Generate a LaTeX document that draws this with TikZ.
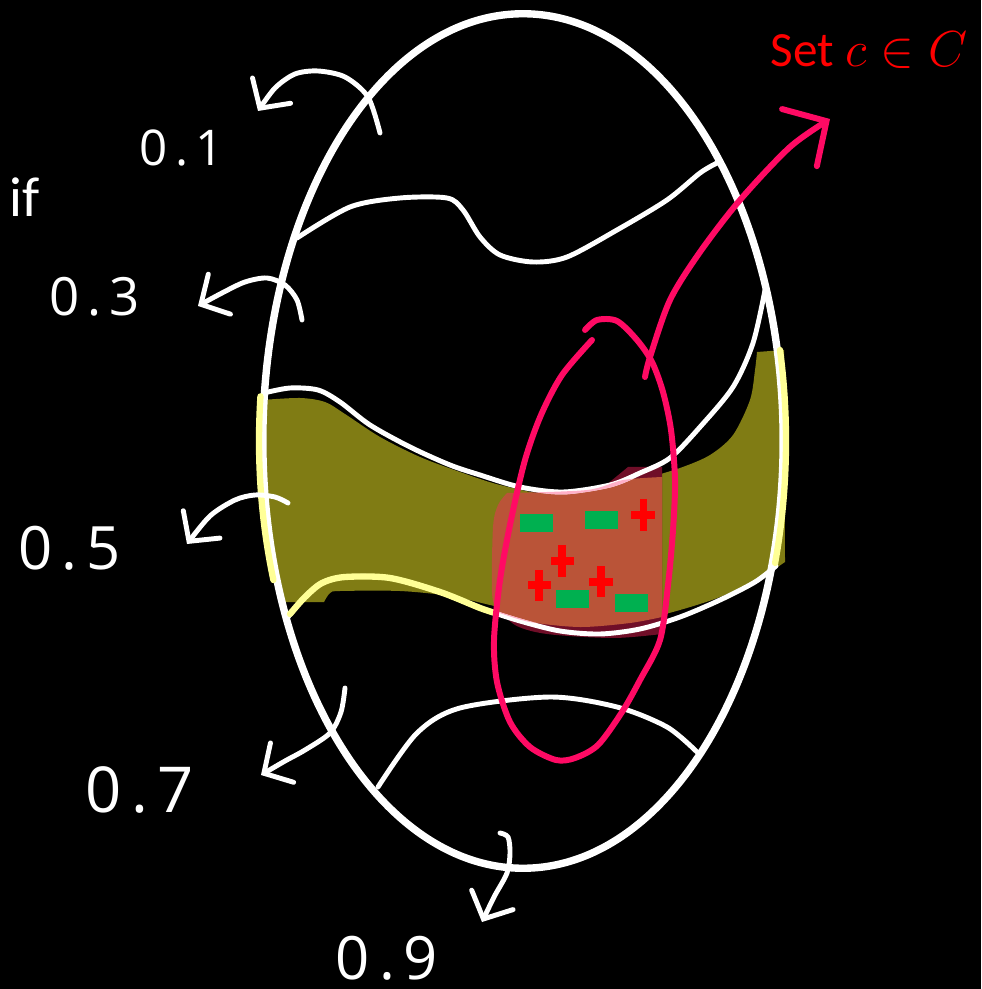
\documentclass[tikz,border=0pt]{standalone}
\usepackage{amsmath}
\usepackage{fontspec}
\usetikzlibrary{arrows.meta}
\newfontfamily\calibrifont{Carlito}
\newfontfamily\handfont{Open Sans}[LetterSpace=15]
\definecolor{bandolive}{RGB}{128,124,20}
\definecolor{hilite}{RGB}{255,255,150}
\definecolor{boxorange}{RGB}{186,84,56}
\definecolor{boxdark}{RGB}{112,14,40}
\definecolor{markgreen}{RGB}{0,176,80}
\definecolor{loopred}{RGB}{255,10,100}
\definecolor{paleline}{RGB}{255,176,200}
\tikzset{
	shell/.style={draw=white, line width=2.1pt},
	contour/.style={draw=white, line width=1.4pt, line cap=round},
	hiline/.style={draw=hilite, line width=1.8pt, line cap=round},
	paleover/.style={draw=paleline, line width=1.4pt},
	pointer/.style={draw=white, line width=1.4pt, line cap=round, line join=round,
		-{Straight Barb[length=6pt,width=13pt,line cap=round]}},
	loopline/.style={draw=loopred, line width=1.7pt, line cap=round, line join=round},
	valuelbl/.style={text=white, inner sep=0pt},
	negmark/.style={fill=markgreen},
	posmark/.style={draw=red, line width=2pt},
}
% shared paths
\def\bandpath{plot[smooth] coordinates {(262,400) (300,398) (325,402) (345,414) (380,437) (420,457) (460,472) (500,485) (560,497) (600,492) (640,480) (680,468) (710,455) (733,435) (750,400) (755,370) (757,352)} -- (784,350) -- (785,562) -- plot[smooth] coordinates {(785,562) (760,578) (720,597) (680,610) (640,620) (600,625) (560,622) (520,612) (490,605) (450,596) (400,591) (340,591) (330,593) (324,602)} -- (285,602) -- (272,540) -- (264,470) -- cycle}
\def\boxpath{plot[smooth] coordinates {(497,612) (492,593) (493,527) (498,505) (507,493)} -- plot[smooth] coordinates {(507,493) (587,490) (623,480) (662,477)} -- (662,617) -- plot[smooth] coordinates {(662,617) (630,623) (580,627) (530,622) (497,612)} -- cycle}
\def\uppercurve{plot[smooth] coordinates {(264,393) (290,388) (318,390) (340,402) (370,425) (410,447) (450,465) (480,475) (520,487) (563,492) (610,485) (640,473) (670,458) (700,427) (733,387) (753,343) (765,290)}}
\def\lowercurve{plot[smooth] coordinates {(288,617) (305,597) (322,583) (345,577) (390,578) (440,592) (480,608) (520,621) (560,631) (600,634) (640,629) (680,617) (720,600) (755,582) (776,566)}}

\begin{document}
\begin{tikzpicture}[x=0.01cm, y=-0.01cm]

	% Background
	\fill[black] (0,0) rectangle (981,989);
	\useasboundingbox (0,0) rectangle (981,989);

	% Highlighted band
	\fill[bandolive] \bandpath;

	% Region inside the band
	\fill[boxdark] plot[smooth] coordinates {(495,605) (515,625) (547,634) (613,638) (662,634)} -- (662,467) -- (628,467) -- (600,490) -- cycle;
	\fill[boxorange] \boxpath;

	% Samples
	\fill[negmark] (520,514) rectangle (553,532);
	\fill[negmark] (585,511) rectangle (618,529);
	\fill[negmark] (556,590) rectangle (589,608);
	\fill[negmark] (615,594) rectangle (648,612);
	\draw[posmark] (631,515) -- (655,515) (643,499) -- (643,531);
	\draw[posmark] (551,561) -- (574,561) (562,545) -- (562,577);
	\draw[posmark] (528,585) -- (551,585) (539,570) -- (539,601);
	\draw[posmark] (589,582) -- (613,582) (601,566) -- (601,597);

	% Level curves
	\draw[contour] plot[smooth] coordinates {(297,238) (350,207) (400,198) (447,198) (463,210) (480,237) (500,255) (533,262) (567,257) (617,230) (667,200) (700,173) (717,163)};
	\draw[contour] \uppercurve;
	\draw[contour] \lowercurve;
	\draw[contour] plot[smooth] coordinates {(378,787) (417,733) (460,708) (550,697) (617,707) (667,727) (697,752)};

	% Outer ellipse
	\draw[shell] (523,441) ellipse [x radius=2.6cm, y radius=4.27cm];

	% Highlight strokes on the band
	\draw[hiline] plot[domain=161:186, samples=30] ({523+264*cos(\x)}, {441+427*sin(\x)});
	\draw[hiline] plot[domain=-12.3:16.6, samples=30] ({525+261*cos(\x)}, {441+427*sin(\x)});
	\draw[hiline] plot[smooth] coordinates {(290,614) (305,597) (322,583) (345,577) (390,578) (440,592) (480,608) (495,613)};
	\begin{scope}
		\clip \boxpath;
		\draw[paleover] \uppercurve;
		\draw[paleover] \lowercurve;
	\end{scope}

	% Set c
	\draw[loopline] plot[smooth] coordinates {(585,330) (597,320) (617,321) (637,340) (652,362) (663,392) (671,430) (675,480) (673,530) (668,585) (660,640) (640,680) (622,712) (598,745) (575,758) (556,760) (530,747) (510,722) (497,682) (494,640) (500,580) (511,520) (525,460) (541,415) (562,375) (592,340)};
	\draw[loopline, -{Straight Barb[length=9pt,width=19pt,line cap=round]}] plot[smooth] coordinates {(645,377) (650,357) (670,300) (700,252) (740,200) (790,147) (830,119)};

	% Arrows to the levels
	\draw[pointer] plot[smooth] coordinates {(380,133) (368,97) (345,77) (318,71) (295,74) (275,88) (258,111)};
	\draw[pointer] plot[smooth] coordinates {(302,320) (297,300) (285,285) (267,278) (245,282) (222,293) (198,306)};
	\draw[pointer] plot[smooth] coordinates {(288,503) (275,497) (255,495) (235,500) (210,516) (187,544)};
	\draw[pointer] plot[smooth] coordinates {(345,688) (341,712) (330,733) (305,750) (285,761) (261,775)};
	\draw[pointer] plot[smooth] coordinates {(500,833) (508,837) (510,853) (507,873) (494,897) (482,922)};

	% Labels
	\node[valuelbl, font=\handfont\fontsize{14}{14}\selectfont] (l01) at (182,148) {0.1};
	\node[valuelbl, font=\handfont\fontsize{15}{15}\selectfont] (l03) at (95,297) {0.3};
	\node[valuelbl, font=\handfont\fontsize{17}{17}\selectfont] (l05) at (70,548) {0.5};
	\node[valuelbl, font=\handfont\fontsize{18}{18}\selectfont] (l07) at (140,790) {0.7};
	\node[valuelbl, font=\handfont\fontsize{17}{17}\selectfont] (l09) at (387,958) {0.9};
	\node[valuelbl, font=\calibrifont\fontsize{16}{16}\selectfont] (cond) at (25,197) {if};
	\node[text=red, inner sep=0pt, font=\calibrifont\fontsize{14}{14}\selectfont] (setc) at (869,50) {Set $c\in C$};

\end{tikzpicture}
\end{document}
